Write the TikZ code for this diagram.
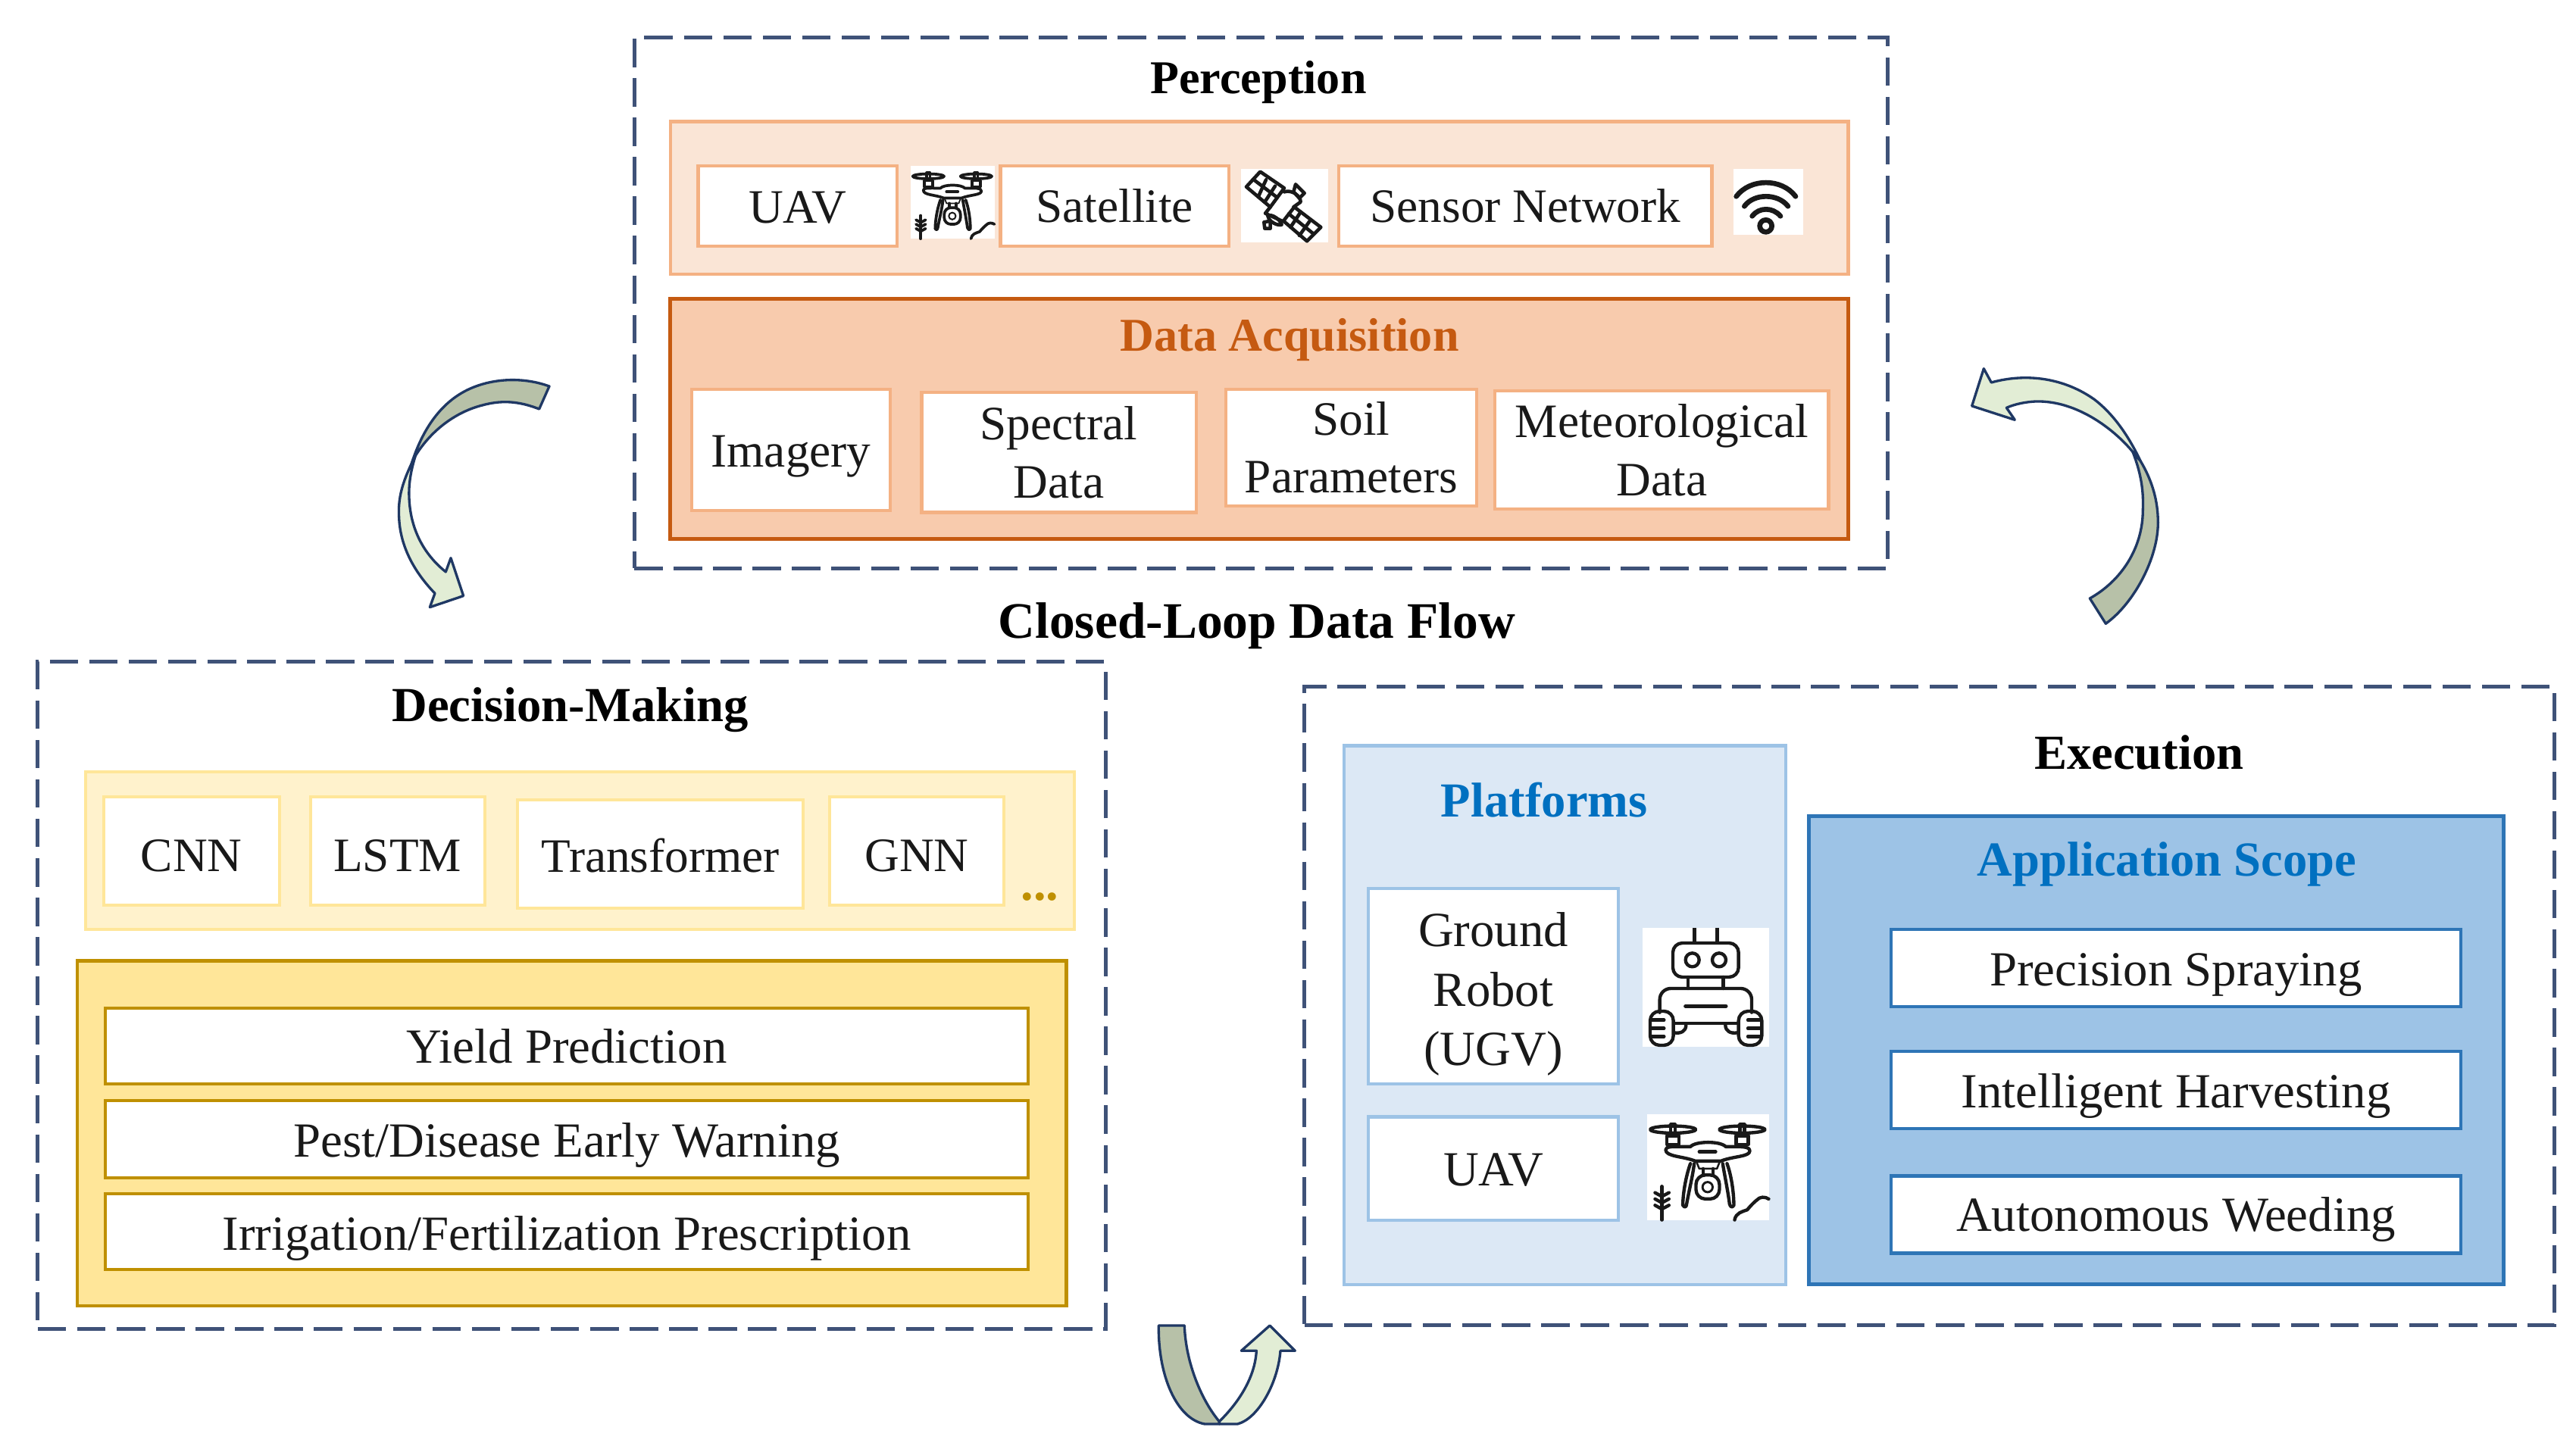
\documentclass[tikz,border=0pt]{standalone}
\usepackage{fontspec}
\setmainfont{Liberation Serif}
\tikzset{
  txt/.style={font=\fontsize{15.2}{18.4}\selectfont,align=center,text=black!90},
  txtb/.style={font=\fontsize{15.55}{18.8}\selectfont,align=center,text=black!90},
  ttl/.style={font=\fontsize{15.5}{18}\selectfont\bfseries,text=black},
  frame/.style={draw=dashnavy,line width=1.2pt,dash pattern=on 9pt off 3.5pt},
  peachbox/.style={txt,draw=peachline,fill=white,line width=1pt},
  bluebox/.style={txtb,draw=paleblueline,fill=white,line width=1pt},
  paleyel/.style={txt,draw=yelline,fill=white,line width=1pt},
  yelbox/.style={txtb,draw=goldline,fill=white,line width=1pt},
  appbox/.style={txtb,draw=deepblue,fill=white,line width=1pt},
  dark/.style={fill=arrowdark,draw=arrowline,line width=.8pt,line join=round},
  light/.style={fill=arrowlight,draw=arrowline,line width=.8pt,line join=round},
  ink/.style={draw=black!90,line cap=round,line join=round}
}
\definecolor{dashnavy}{HTML}{3F5278}
\definecolor{peachline}{HTML}{F4B183}
\definecolor{peachfill}{HTML}{FAE5D6}
\definecolor{orangefill}{HTML}{F8CBAD}
\definecolor{orangeline}{HTML}{C55A11}
\definecolor{paleblue}{HTML}{DCE8F5}
\definecolor{paleblueline}{HTML}{9DC3E6}
\definecolor{midblue}{HTML}{9DC3E6}
\definecolor{deepblue}{HTML}{2E75B6}
\definecolor{titleblue}{HTML}{0070C0}
\definecolor{yelpale}{HTML}{FFF2CC}
\definecolor{yelline}{HTML}{FFE699}
\definecolor{yelmid}{HTML}{FFE699}
\definecolor{goldline}{HTML}{BF9000}
\definecolor{arrowdark}{HTML}{B7C1A8}
\definecolor{arrowlight}{HTML}{E2EDD5}
\definecolor{arrowline}{HTML}{1F3864}
\newcommand{\dn}[2]{\raisebox{-#1pt}[\height][\depth]{#2}}
\newcommand{\rbox}[7]{%
  \pgfmathsetmacro\cx{(#3+#5)/2}\pgfmathsetmacro\cy{(#4+#6)/2}%
  \pgfmathsetmacro\ww{(#5-#3)*0.5204}\pgfmathsetmacro\hh{(#6-#4)*0.5204}%
  \node[#1,minimum width=\ww pt,minimum height=\hh pt,inner sep=0pt,outer sep=0pt] (#2) at (\cx,\cy) {#7};}
% zoom-unit scope: 1 unit = 1/3 px of the reference
\newcommand{\droneicon}[3]{%
\begin{scope}[shift={(#1,#2)},x=#3*0.08pt,y=-#3*0.08pt]
  \fill[white] (0,0) rectangle (483,418);
  \begin{scope}[ink,line width=0.55pt+#3*0.5pt]
    \foreach \c in {101,375}{
      \draw (\c,60) ellipse [x radius=90,y radius=14];
      \draw (\c-9,40) rectangle (\c+9,85);
      \draw[fill=white] (\c-24,85) rectangle (\c+24,120);
    }
    \draw[fill=white] (72,140) .. controls (72,125) and (100,128) .. (170,128)
      .. controls (190,105) and (290,105) .. (310,128)
      .. controls (370,128) and (405,125) .. (405,145)
      .. controls (405,168) and (340,165) .. (290,185) -- (190,185)
      .. controls (140,165) and (72,168) .. (72,140) -- cycle;
    \draw (205,148) -- (270,148);
    \draw[line width=#3*.6pt] (195,190) -- (205,215) -- (275,215) -- (285,190);
    \draw (170,195) .. controls (150,250) and (140,320) .. (140,360) .. controls (148,372) and (155,365) .. (155,355) .. controls (165,300) and (180,240) .. (185,195);
    \draw (315,195) .. controls (335,250) and (342,320) .. (342,360) .. controls (335,372) and (328,365) .. (325,355) .. controls (318,300) and (305,240) .. (298,195);
    \draw (220,215) -- (220,240) (260,215) -- (260,240);
    \draw[rounded corners=#3*3pt] (192,240) rectangle (285,335);
    \draw[line width=#3*.7pt] (238,288) circle (20);
    \draw (57,285) -- (57,418);
    \draw (30,310) -- (57,325) -- (85,310) (30,335) -- (57,350) -- (85,335) (30,360) -- (57,375) -- (85,360);
    \draw (345,418) .. controls (350,390) and (375,385) .. (395,378) .. controls (410,360) and (420,350) .. (432,340) .. controls (445,325) and (465,325) .. (480,335);
  \end{scope}
\end{scope}}
\begin{document}
\begin{tikzpicture}[x=0.5204pt,y=-0.5204pt]
\useasboundingbox (0,0) rectangle (1568,882.2);
\fill[white] (0,0) rectangle (1568,882.2);
% Perception
\rbox{frame}{perc}{386}{23}{1149}{346}{}
\node[ttl,font=\fontsize{14.9}{18}\selectfont\bfseries] (percT) at (766,50) {Perception};
\rbox{draw=peachline,fill=peachfill,line width=1pt}{sensing}{408}{74}{1125}{167}{}
\rbox{peachbox}{uav}{425}{101}{546}{150}{\dn{0.5}{UAV}}
\rbox{peachbox}{sat}{609}{101}{748}{150}{Satellite}
\rbox{peachbox}{sens}{815}{101}{1042}{150}{Sensor Network}
\droneicon{554.4}{101}{0.69}
% satellite icon
\begin{scope}[shift={({1620/2.1684},{205/2.1684})},x=0.08pt,y=-0.08pt]
  \fill[white] (55,55) rectangle (400,345);
  \begin{scope}[ink,line width=1.1pt]
    \draw (130,65) -- (225,130) -- (170,205) -- (75,125) -- cycle;
    \draw (102,95) -- (197,167) (153,97) -- (122,165) (189,122) -- (148,185);
    \draw (265,205) -- (370,285) -- (315,340) -- (222,260) -- cycle;
    \draw (243,232) -- (342,312) (290,225) -- (250,285) (330,255) -- (285,318);
    \draw (225,145) .. controls (255,135) and (290,160) .. (290,185) -- (262,205);
    \draw (170,205) -- (150,230) -- (220,262);
    \draw (270,115) -- (305,150) -- (285,170) -- (262,145) -- cycle;
    \draw (160,240) .. controls (175,230) and (210,255) .. (215,275) .. controls (200,280) and (165,265) .. (160,240);
    \draw (145,265) -- (170,260) -- (170,290) -- (148,290) -- cycle;
  \end{scope}
\end{scope}
% wifi icon
\begin{scope}[shift={({2270/2.1684},{210/2.1684})},x=0.08pt,y=-0.08pt]
  \fill[white] (55,40) rectangle (330,300);
  \begin{scope}[ink,line width=1.6pt]
    \draw (65,148) .. controls (120,75) and (245,75) .. (300,148);
    \draw (97,187) .. controls (135,135) and (230,135) .. (270,187);
    \draw (128,226) .. controls (155,190) and (210,190) .. (240,226);
    \draw (182,265) circle (24);
  \end{scope}
\end{scope}
\rbox{draw=orangeline,fill=orangefill,line width=1.1pt}{acq}{408}{182}{1125}{328}{}
\node[ttl,font=\fontsize{14.9}{18}\selectfont\bfseries,text=orangeline] (acqT) at (785,207) {Data Acquisition};
\rbox{peachbox}{img}{421}{237}{542}{311}{\dn{2}{Imagery}}
\rbox{peachbox}{spec}{561}{239}{728}{312}{Spectral\\Data}
\rbox{peachbox}{soil}{746}{237}{899}{308}{Soil\\Parameters}
\rbox{peachbox}{met}{910}{238}{1113}{310}{Meteorological\\Data}
% Title
\node[ttl,font=\fontsize{16.2}{18}\selectfont\bfseries] (flow) at (765,381) {Closed-Loop Data Flow};
% Decision-Making
\rbox{frame}{dec}{23}{403}{673}{809}{}
\node[ttl] (decT) at (347,432) {Decision-Making};
\rbox{draw=yelline,fill=yelpale,line width=1pt}{models}{52}{470}{654}{566}{}
\rbox{paleyel}{cnn}{63}{485}{170}{551}{\dn{1.5}{CNN}}
\rbox{paleyel}{lstm}{189}{485}{295}{551}{\dn{1.5}{LSTM}}
\rbox{paleyel}{trans}{315}{487}{489}{553}{\dn{0.5}{Transformer}}
\rbox{paleyel}{gnn}{505}{485}{611}{551}{\dn{1.5}{GNN}}
\node[anchor=base,text=goldline,font=\fontsize{15.9}{18}\selectfont\bfseries] (dots) at (633,548) {...};
\rbox{draw=goldline,fill=yelmid,line width=1.1pt}{outs}{47}{585}{649}{795}{}
\rbox{yelbox}{yield}{64}{614}{626}{660}{Yield Prediction}
\rbox{yelbox}{pest}{64}{670}{626}{717}{\dn{2}{Pest/Disease Early Warning}}
\rbox{yelbox}{irr}{64}{727}{626}{773}{\dn{2}{Irrigation/Fertilization Prescription}}
% Execution
\rbox{frame}{exec}{794}{418}{1555}{807}{}
\node[ttl] (execT) at (1302,458) {Execution};
\rbox{draw=paleblueline,fill=paleblue,line width=1pt}{plat}{818}{454}{1087}{782}{}
\node[ttl,text=titleblue] (platT) at (940,487) {Platforms};
\rbox{bluebox}{ugv}{833}{541}{985}{660}{\dn{2.5}{Ground}\\\dn{2.5}{Robot}\\\dn{2.5}{(UGV)}}
\rbox{bluebox}{uavb}{833}{680}{985}{743}{\dn{0.5}{UAV}}
% robot icon
\begin{scope}[shift={({2168/2.1684},{1225/2.1684})},x=0.08pt,y=-0.08pt]
  \fill[white] (0,0) rectangle (500,470);
  \begin{scope}[ink,line width=1.05pt]
    \draw[line cap=butt] (205,0) -- (205,60) (295,0) -- (295,60);
    \draw[rounded corners=3pt] (120,60) rectangle (380,195);
    \draw (197,127) circle (27) (303,127) circle (27);
    \draw (180,195) -- (180,240) (320,195) -- (320,240);
    \draw[rounded corners=3.5pt] (68,335) -- (68,240) -- (432,240) -- (432,335);
    \draw (125,378) -- (375,378);
    \draw[line width=1.2pt] (170,310) -- (330,310);
    \draw (172,385) .. controls (172,410) and (150,420) .. (125,415);
    \draw (328,385) .. controls (328,410) and (350,420) .. (375,415);
    \draw[rounded corners=3pt] (30,330) rectangle (122,465);
    \draw[rounded corners=3pt] (380,330) rectangle (472,465);
    \draw (35,365) -- (85,365) (35,398) -- (85,398) (35,430) -- (85,430);
    \draw (417,365) -- (467,365) (417,398) -- (467,398) (417,430) -- (467,430);
  \end{scope}
\end{scope}
\droneicon{1002.8}{678.5}{1}
\rbox{draw=deepblue,fill=midblue,line width=1.1pt}{app}{1101}{497}{1524}{782}{}
\node[ttl,text=titleblue] (appT) at (1319,526) {Application Scope};
\rbox{appbox}{spray}{1151}{566}{1498}{613}{\dn{2}{Precision Spraying}}
\rbox{appbox}{harv}{1151}{640}{1498}{687}{\dn{2}{Intelligent Harvesting}}
\rbox{appbox}{weed}{1151}{716}{1498}{763}{\dn{1.5}{Autonomous Weeding}}
% Left arrow
\begin{scope}[shift={({480/2.1684},{470/2.1684})},x=0.08pt,y=-0.08pt]
  \draw[light] (190,425) .. controls (155,500) and (135,560) .. (140,640) .. controls (145,760) and (205,860) .. (282,940) -- (262,995) -- (395,950) -- (345,800) -- (325,855) .. controls (250,795) and (185,700) .. (180,560) .. controls (178,510) and (185,460) .. (205,395) -- cycle;
  \draw[dark] (735,120) .. controls (640,85) and (520,85) .. (420,130) .. controls (320,175) and (240,270) .. (190,425) -- (205,395) .. controls (270,290) and (370,220) .. (470,195) .. controls (560,170) and (630,185) .. (695,210) -- cycle;
\end{scope}
% Right arrow
\begin{scope}[shift={({2570/2.1684},{460/2.1684})},x=0.08pt,y=-0.08pt]
  \draw[dark] (765,445) .. controls (810,520) and (835,600) .. (835,690) .. controls (835,830) and (740,1010) .. (628,1090) -- (565,990) .. controls (690,920) and (775,790) .. (775,640) .. controls (778,570) and (770,500) .. (735,410) -- cycle;
  \draw[light] (98,228) -- (145,80) -- (175,135) .. controls (300,100) and (450,110) .. (580,200) .. controls (660,260) and (720,350) .. (765,445) -- (735,410) .. controls (670,330) and (520,205) .. (350,210) .. controls (310,212) and (270,220) .. (235,235) -- (268,283) -- cycle;
\end{scope}
% Bottom arrow
\begin{scope}[shift={({1480/2.1684},{1700/2.1684})},x=0.08pt,y=-0.08pt]
  \draw[dark] (148,150) -- (250,150) .. controls (255,300) and (320,450) .. (388,530) -- (388,540) -- (330,540) .. controls (220,520) and (145,350) .. (148,150) -- cycle;
  \draw[light] (388,530) .. controls (470,450) and (530,350) .. (535,250) -- (475,250) -- (588,150) -- (688,250) -- (630,250) .. controls (620,380) and (540,520) .. (460,540) -- (388,540) -- cycle;
\end{scope}
\end{tikzpicture}
\end{document}
